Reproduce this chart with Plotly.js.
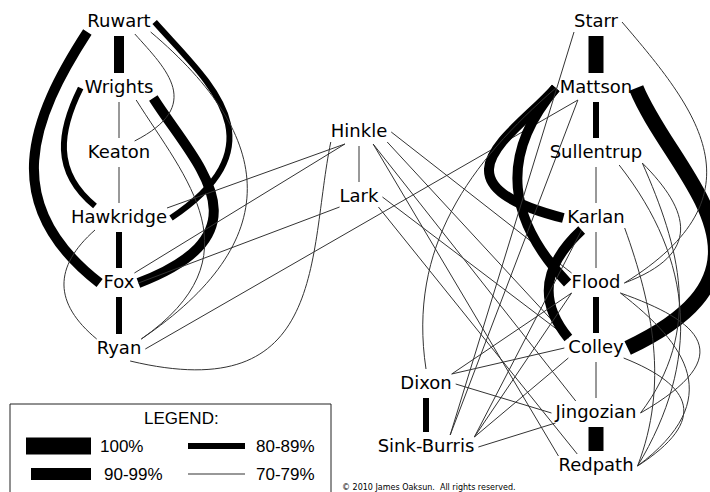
<!DOCTYPE html>
<html><head><meta charset="utf-8">
<script src="https://cdn.plot.ly/plotly-3.0.1.min.js"></script>
<style>html,body{margin:0;padding:0;background:#fff}#chart{width:710px;height:492px}</style>
</head><body><div id="chart"></div>
<script>
// ---- data ----
const nodeNames = ['Ruwart','Wrights','Keaton','Hawkridge','Fox','Ryan','Hinkle','Lark',
  'Starr','Mattson','Sullentrup','Karlan','Flood','Colley','Jingozian','Redpath','Dixon','Sink-Burris'];
const nodeX = [119,119,119,119,119,119,359,359,596,596,596,596,596,596,596,596,426,426];
const nodeY = [22,88,153,218,283,349,132,197,22,88,153,218,283,348,413,466,384,447];

const edgeFrom = ['Ruwart','Ruwart','Ruwart','Wrights','Wrights','Hawkridge','Fox','Wrights','Keaton','Ruwart',
  'Ruwart','Wrights','Hawkridge','Hawkridge','Fox','Fox','Ryan','Ryan','Hinkle','Hinkle',
  'Hinkle','Hinkle','Hinkle','Lark','Lark','Starr','Mattson','Mattson','Mattson','Mattson',
  'Karlan','Flood','Jingozian','Dixon','Sullentrup','Karlan','Colley','Starr','Starr','Mattson',
  'Mattson','Karlan','Flood','Flood','Colley','Colley','Dixon','Sink-Burris','Sullentrup','Sullentrup',
  'Karlan','Flood','Flood','Colley','Sullentrup'];
const edgeTo = ['Wrights','Fox','Hawkridge','Hawkridge','Fox','Fox','Ryan','Keaton','Hawkridge','Keaton',
  'Ryan','Ryan','Ryan','Hinkle','Hinkle','Lark','Hinkle','Mattson','Lark','Flood',
  'Colley','Jingozian','Redpath','Colley','Redpath','Mattson','Sullentrup','Colley','Karlan','Flood',
  'Colley','Colley','Redpath','Sink-Burris','Karlan','Flood','Jingozian','Sink-Burris','Flood','Dixon',
  'Sink-Burris','Sink-Burris','Dixon','Sink-Burris','Dixon','Sink-Burris','Jingozian','Jingozian','Flood','Redpath',
  'Redpath','Redpath','Jingozian','Redpath','Jingozian'];
const edgeClass = ['90-99%','90-99%','80-89%','80-89%','90-99%','80-89%','80-89%','70-79%','70-79%','70-79%',
  '70-79%','70-79%','70-79%','70-79%','70-79%','70-79%','70-79%','70-79%','70-79%','70-79%',
  '70-79%','70-79%','70-79%','70-79%','70-79%','100%','80-89%','100%','90-99%','90-99%',
  '90-99%','80-89%','100%','80-89%','70-79%','70-79%','70-79%','70-79%','70-79%','70-79%',
  '70-79%','70-79%','70-79%','70-79%','70-79%','70-79%','70-79%','70-79%','70-79%','70-79%',
  '70-79%','70-79%','70-79%','70-79%','70-79%'];
const legendLabels = ['100%','90-99%','80-89%','70-79%'];
const legendTitle = 'LEGEND:';
const copyrightText = '\u00a9 2010 James Oaksun.  All rights reserved.';

// ---- drawing style (anchor sides on the labels and curvature of each link) ----
const edgeFromSide = ['b','bl','r','l','br','b','b','b','b','br2',
  'br','br2','bl2','tr','tr','r','br2','r','b','r',
  'br','br2','br2','r','br','b','b','r','l','l',
  'bl2','b','b','b','b','b','b','bl','r','l',
  'bl2','bl2','bl','bl','l','bl','r','r','br','br2',
  'br','br','br','br','br'];
const edgeToSide = ['t','l','r','tl2','r','t','t','t','t','tr2',
  'tr','tr','tl','bl2','bl2','bl','bl','bl2','t','tl',
  'tl','tl2','tl','tl','tl2','t','t','r','l','l',
  'tl','t','t','t','t','t','t','tr2','r','t',
  'tr2','tr','tr','tr','tr','tr','l','bl','r','r',
  'r','r','r','r','r'];
const edgeBend1 = [0,0.24,-0.25,0.22,-0.25,0,0,0,0,-0.3,
  -0.42,-0.2,0.39,0,0,0,0.6,0,0,0,
  0,0,0,0,0,0,0,-0.15,0.33,0.32,
  0.28,0,0,0,0,0,0,0,-0.28,0.15,
  0,0,0,0,0,0,0,0,-0.45,-0.23,
  -0.1,-0.35,-0.6,-0.6,-0.15];
const edgeBend2 = [0,0.39,-0.6,0.32,-0.7,0,0,0,0,-0.65,
  -0.46,-0.5,0.39,0,0,0,0.2,0,0,0,
  0,0,0,0,0,0,0,-0.65,1.05,0.28,
  0.35,0,0,0,0,0,0,0,-0.55,0.22,
  0,0,0,0,0,0,0,0,-0.6,-0.23,
  -0.15,-0.55,-0.9,-0.7,-0.25];
const classWidth = {'100%':15,'90-99%':10,'80-89%':6,'70-79%':1};
const classColor = {'100%':'#000','90-99%':'#000','80-89%':'#000','70-79%':'#333'};

const labelFont = "18px 'DejaVu Sans'";
const cnv = document.createElement('canvas').getContext('2d');
cnv.font = labelFont;
const halfW = nodeNames.map(n => cnv.measureText(n).width / 2);

function anchor(name, side) {
  const i = nodeNames.indexOf(name);
  const x = nodeX[i], y = nodeY[i], hw = halfW[i];
  switch (side) {
    case 't': return [x, y - 15];
    case 'b': return [x, y + 14];
    case 'l': return [x - hw - 4, y];
    case 'r': return [x + hw + 4, y];
    case 'tl': return [x - hw, y - 10];
    case 'tr': return [x + hw, y - 10];
    case 'bl': return [x - hw, y + 10];
    case 'br': return [x + hw, y + 10];
    case 'tl2': return [x - hw * 0.5, y - 12];
    case 'tr2': return [x + hw * 0.5, y - 12];
    case 'bl2': return [x - hw * 0.5, y + 12];
    case 'br2': return [x + hw * 0.5, y + 12];
  }
  return [x, y];
}

const shapes = [];
edgeFrom.forEach((f, k) => {
  const p0 = anchor(f, edgeFromSide[k]);
  const p3 = anchor(edgeTo[k], edgeToSide[k]);
  const dx = p3[0] - p0[0], dy = p3[1] - p0[1];
  const L = Math.hypot(dx, dy);
  const nx = -dy / L, ny = dx / L;
  const b1 = edgeBend1[k], b2 = edgeBend2[k];
  let path;
  if (b1 === 0 && b2 === 0) {
    path = `M${p0[0]},${p0[1]} L${p3[0]},${p3[1]}`;
  } else {
    const c1 = [p0[0] + dx / 3 + nx * b1 * L, p0[1] + dy / 3 + ny * b1 * L];
    const c2 = [p0[0] + 2 * dx / 3 + nx * b2 * L, p0[1] + 2 * dy / 3 + ny * b2 * L];
    path = `M${p0[0]},${p0[1]} C${c1[0]},${c1[1]} ${c2[0]},${c2[1]} ${p3[0]},${p3[1]}`;
  }
  shapes.push({type:'path', xref:'x', yref:'y', path: path, layer:'below',
    line:{color: classColor[edgeClass[k]], width: classWidth[edgeClass[k]]}});
});

// legend box
shapes.push({type:'rect', xref:'x', yref:'y', x0:10, y0:404, x1:331, y1:520,
  line:{color:'#222', width:1}, fillcolor:'rgba(0,0,0,0)', layer:'below'});
const legendBarX0 = [26, 31, 188, 188];
const legendBarX1 = [91, 91, 245, 245];
const legendRowY = [446, 474, 446, 474];
const legendBarH = [17, 12, 6, 1];
const legendTextX = [98, 102, 254, 254];
const annotations = [];
legendLabels.forEach((lab, k) => {
  shapes.push({type:'rect', xref:'x', yref:'y', x0:legendBarX0[k], x1:legendBarX1[k],
    y0:legendRowY[k] - legendBarH[k] / 2, y1:legendRowY[k] + legendBarH[k] / 2,
    line:{width:0}, fillcolor: k === 3 ? '#333' : '#000', layer:'below'});
  annotations.push({x:legendTextX[k], y:legendRowY[k], xref:'x', yref:'y', text:lab,
    showarrow:false, xanchor:'left', yanchor:'middle',
    font:{family:'Liberation Sans, Arial', size:17, color:'#000'}});
});
annotations.push({x:181, y:418, xref:'x', yref:'y', text:legendTitle, showarrow:false,
  xanchor:'center', yanchor:'middle', font:{family:'Liberation Sans, Arial', size:17, color:'#000'}});
annotations.push({x:340, y:487, xref:'x', yref:'y', text:copyrightText, showarrow:false,
  xanchor:'left', yanchor:'middle', font:{family:'DejaVu Sans', size:8, color:'#000'}});

const trace = {
  x: nodeX, y: nodeY, text: nodeNames, mode:'text', type:'scatter',
  textposition:'middle center', hoverinfo:'skip', cliponaxis:false,
  textfont:{family:'DejaVu Sans', size:18, color:'#000'}
};

Plotly.newPlot('chart', [trace], {
  width:710, height:492, margin:{l:0,r:0,t:0,b:0},
  paper_bgcolor:'#fff', plot_bgcolor:'#fff', showlegend:false,
  xaxis:{range:[0,710], visible:false, fixedrange:true},
  yaxis:{range:[492,0], visible:false, fixedrange:true},
  shapes: shapes, annotations: annotations
}, {staticPlot:true, displayModeBar:false});
</script></body></html>
